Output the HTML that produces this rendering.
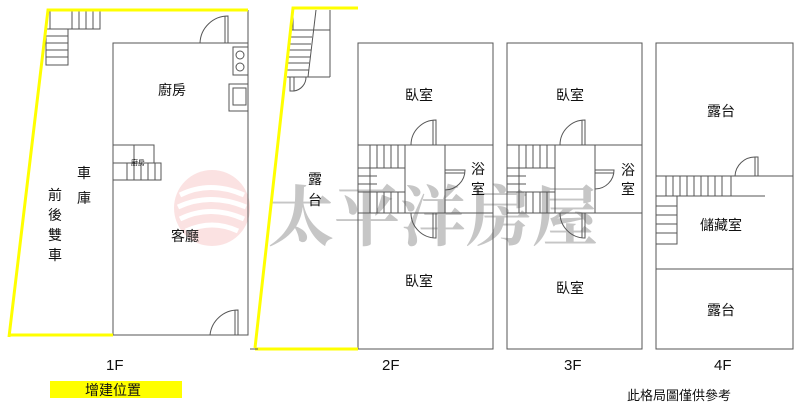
<!DOCTYPE html>
<html><head><meta charset="utf-8"><style>
html,body{margin:0;padding:0;background:#fff;width:800px;height:414px;overflow:hidden}
svg{display:block}
text{font-family:"Liberation Sans","Noto Sans CJK TC",sans-serif;fill:#111}
</style></head><body>
<svg width="800" height="414" viewBox="0 0 800 414" xmlns="http://www.w3.org/2000/svg">
<!-- watermark -->
<g opacity="0.3">
<circle cx="212" cy="208" r="38" fill="#f2a0a0"/>
<path d="M180 195 q30 -15 64 0 M178 207 q32 -15 68 0 M180 219 q30 -15 64 0 M186 231 q26 -12 52 0" stroke="#fff" stroke-width="5" fill="none"/>
</g>
<text x="268" y="240" font-size="66" style="font-family:'Noto Serif CJK SC',serif;fill:#c6c6c6;font-weight:bold">太平洋房屋</text>

<g stroke="#555" stroke-width="1" fill="none">
<!-- 1F -->
<rect x="113" y="43" width="135" height="292"/>
<line x1="248" y1="10" x2="248" y2="43"/>
<rect x="50" y="10" width="50" height="19"/><line x1="72" y1="10" x2="72" y2="29"/><line x1="79" y1="10" x2="79" y2="29"/><line x1="86" y1="10" x2="86" y2="29"/><line x1="93" y1="10" x2="93" y2="29"/>
<rect x="46" y="29" width="22" height="36"/><line x1="46" y1="36" x2="68" y2="36"/><line x1="46" y1="43" x2="68" y2="43"/><line x1="46" y1="50" x2="68" y2="50"/><line x1="46" y1="57" x2="68" y2="57"/>
<path d="M200 43 a28 28 0 0 1 28 -27 v27"/><line x1="225" y1="16" x2="225" y2="43"/>
<rect x="233" y="47" width="15" height="28"/><circle cx="240" cy="55" r="4"/><circle cx="240" cy="67" r="4"/>
<rect x="229" y="84" width="19" height="27"/><rect x="233" y="88" width="13" height="17"/>
<rect x="113" y="145" width="41" height="18"/><line x1="134" y1="145" x2="134" y2="163"/>
<rect x="113" y="163" width="48" height="17"/><line x1="127" y1="163" x2="127" y2="180"/><line x1="134" y1="163" x2="134" y2="180"/><line x1="141" y1="163" x2="141" y2="180"/><line x1="148" y1="163" x2="148" y2="180"/><line x1="155" y1="163" x2="155" y2="180"/>
<path d="M210 335 a28 28 0 0 1 28 -25 v25"/><line x1="235" y1="310" x2="235" y2="335"/>
<!-- 2F -->
<rect x="358" y="43" width="135" height="306"/>
<line x1="358" y1="145" x2="493" y2="145"/><line x1="358" y1="213" x2="493" y2="213"/>
<line x1="405" y1="145" x2="405" y2="213"/><line x1="445" y1="145" x2="445" y2="213"/>
<line x1="370" y1="145" x2="370" y2="213"/><line x1="377" y1="145" x2="377" y2="168"/><line x1="384" y1="145" x2="384" y2="168"/><line x1="391" y1="145" x2="391" y2="168"/><line x1="398" y1="145" x2="398" y2="168"/>
<line x1="377" y1="192" x2="377" y2="213"/><line x1="384" y1="192" x2="384" y2="213"/><line x1="391" y1="192" x2="391" y2="213"/><line x1="398" y1="192" x2="398" y2="213"/>
<line x1="358" y1="168" x2="405" y2="168"/><line x1="358" y1="192" x2="405" y2="192"/><line x1="358" y1="176" x2="377" y2="176"/><line x1="358" y1="184" x2="377" y2="184"/>
<path d="M411 145 a25 25 0 0 1 25 -25 v25"/><line x1="433" y1="120" x2="433" y2="145"/>
<path d="M411 213 a25 25 0 0 0 25 25 v-25"/><line x1="433" y1="213" x2="433" y2="238"/>
<path d="M445 170 h20 a20 20 0 0 1 -20 20"/><line x1="445" y1="173" x2="465" y2="173"/>
<line x1="293" y1="10" x2="293" y2="30"/><line x1="316" y1="10" x2="308" y2="77"/>
<line x1="330" y1="10" x2="330" y2="77"/><line x1="313" y1="30" x2="330" y2="30"/><line x1="308" y1="77" x2="330" y2="77"/>
<line x1="290" y1="30" x2="313" y2="30"/><line x1="290" y1="37" x2="312" y2="37"/><line x1="289" y1="44" x2="311" y2="44"/><line x1="289" y1="50" x2="311" y2="50"/><line x1="288" y1="57" x2="310" y2="57"/><line x1="288" y1="63" x2="309" y2="63"/><line x1="287" y1="70" x2="309" y2="70"/><line x1="287" y1="77" x2="308" y2="77"/>
<path d="M290 77 v14 h4 a14 14 0 0 0 12 -14"/><line x1="294" y1="77" x2="294" y2="91"/>
<!-- 3F -->
<rect x="507" y="43" width="135" height="306"/>
<line x1="507" y1="145" x2="642" y2="145"/><line x1="507" y1="213" x2="642" y2="213"/>
<line x1="555" y1="145" x2="555" y2="213"/><line x1="595" y1="145" x2="595" y2="213"/>
<line x1="519" y1="145" x2="519" y2="213"/><line x1="526" y1="145" x2="526" y2="168"/><line x1="533" y1="145" x2="533" y2="168"/><line x1="540" y1="145" x2="540" y2="168"/><line x1="547" y1="145" x2="547" y2="168"/>
<line x1="526" y1="192" x2="526" y2="213"/><line x1="533" y1="192" x2="533" y2="213"/><line x1="540" y1="192" x2="540" y2="213"/><line x1="547" y1="192" x2="547" y2="213"/>
<line x1="507" y1="168" x2="555" y2="168"/><line x1="507" y1="192" x2="555" y2="192"/><line x1="507" y1="176" x2="526" y2="176"/><line x1="507" y1="184" x2="526" y2="184"/>
<path d="M560 145 a25 25 0 0 1 25 -25 v25"/><line x1="582" y1="120" x2="582" y2="145"/>
<path d="M560 213 a25 25 0 0 0 25 25 v-25"/><line x1="582" y1="213" x2="582" y2="238"/>
<path d="M595 170 h19 a19 19 0 0 1 -19 19"/><line x1="595" y1="173" x2="614" y2="173"/>
<!-- 4F -->
<rect x="656" y="43" width="137" height="306"/>
<line x1="656" y1="176" x2="793" y2="176"/><line x1="656" y1="269" x2="793" y2="269"/>
<rect x="656" y="176" width="75" height="20"/>
<line x1="666" y1="176" x2="666" y2="196"/><line x1="673" y1="176" x2="673" y2="196"/><line x1="680" y1="176" x2="680" y2="196"/><line x1="687" y1="176" x2="687" y2="196"/><line x1="694" y1="176" x2="694" y2="196"/><line x1="701" y1="176" x2="701" y2="196"/><line x1="708" y1="176" x2="708" y2="196"/><line x1="715" y1="176" x2="715" y2="196"/><line x1="722" y1="176" x2="722" y2="196"/>
<line x1="731" y1="196" x2="765" y2="196"/>
<rect x="656" y="196" width="21" height="48"/><line x1="656" y1="206" x2="677" y2="206"/><line x1="656" y1="215" x2="677" y2="215"/><line x1="656" y1="224" x2="677" y2="224"/><line x1="656" y1="233" x2="677" y2="233"/>
<path d="M735 176 a20 20 0 0 1 20 -19 h3 v19"/><line x1="755" y1="157" x2="755" y2="176"/>
</g>
<!-- yellow -->
<g stroke="#ffff00" stroke-width="3" fill="none">
<polyline points="248,10 48,10 9,337"/><line x1="10" y1="335" x2="113" y2="335"/>
<polyline points="358,8 293,8 255,348"/><line x1="255" y1="349" x2="358" y2="349"/>
</g>
<line x1="250" y1="349" x2="258" y2="349" stroke="#555"/>
<!-- labels -->
<g font-size="14">
<text x="158" y="95">廚房</text>
<text x="171" y="241">客廳</text>
<text x="77" y="178">車</text><text x="77" y="203">庫</text>
<text x="48" y="200">前</text><text x="48" y="220">後</text><text x="48" y="240">雙</text><text x="48" y="260">車</text>
<text x="308" y="184">露</text><text x="308" y="205">台</text>
<text x="405" y="100">臥室</text><text x="405" y="286">臥室</text>
<text x="471" y="174">浴</text><text x="471" y="194">室</text>
<text x="556" y="100">臥室</text><text x="556" y="293">臥室</text>
<text x="621" y="175">浴</text><text x="621" y="194">室</text>
<text x="707" y="116">露台</text><text x="700" y="230">儲藏室</text><text x="707" y="315">露台</text>
<text x="106" y="370" font-size="15">1F</text><text x="382" y="370" font-size="15">2F</text><text x="564" y="370" font-size="15">3F</text><text x="714" y="370" font-size="15">4F</text>
</g>
<text x="131" y="165" font-size="7">廚房</text>
<rect x="50" y="381" width="132" height="17" fill="#ffff00"/>
<text x="85" y="395" font-size="14">增建位置</text>
<text x="627" y="400" font-size="13">此格局圖僅供參考</text>
</svg>
</body></html>
